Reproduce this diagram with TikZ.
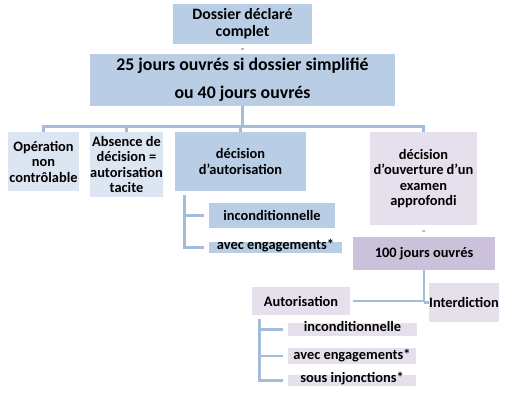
\documentclass[tikz,border=0pt]{standalone}
\usepackage{fontspec}
\setmainfont{Carlito}[Ligatures=ResetAll]
\usetikzlibrary{calc}

\definecolor{bleu}{HTML}{B9CDE5}
\definecolor{bleuclair}{HTML}{DCE6F2}
\definecolor{mauve}{HTML}{E6E0EC}
\definecolor{mauvefonce}{HTML}{CCC1DA}
\definecolor{trait}{HTML}{A4BCDC}

\tikzset{
  boite/.style={rectangle, inner sep=0pt, align=center,
    font=\bfseries\fontsize{14.4}{15.5}\selectfont},
  link/.style={draw=trait, line width=2.8pt}
}

\begin{document}
\begin{tikzpicture}[x=1pt, y=-1pt]
\useasboundingbox (0,0) rectangle (510,400);

% haut
\node[boite, fill=bleu, minimum width=139, minimum height=40,
  font=\bfseries\fontsize{15.8}{17}\selectfont] (dossier) at (242.5,24) {Dossier déclaré\\complet};
\node[boite, fill=bleu, minimum width=305, minimum height=52,
  font=\bfseries\fontsize{17.8}{28}\selectfont] (delai) at (242.5,80) {25 jours ouvrés si dossier simplifié\\ou 40 jours ouvrés};

% premier niveau
\node[boite, fill=bleuclair, minimum width=71, minimum height=59] (opnc) at (43.5,161.5) {Opération\\non\\contrôlable};
\node[boite, fill=bleuclair, minimum width=73, minimum height=65] (tacite) at (126.5,164.5) {Absence de\\décision =\\autorisation\\tacite};
\node[boite, fill=bleu, minimum width=131, minimum height=59] (autor) at (240.5,161.5) {décision\\d'autorisation};
\node[boite, fill=mauve, minimum width=107, minimum height=93] (approf) at (423.5,178.5) {décision\\d'ouverture d'un\\examen\\approfondi};

% sous decision d'autorisation
\node[boite, fill=bleu, minimum width=126, minimum height=25] (inc1) at (272,215.5) {inconditionnelle};
\node[boite, fill=bleu, minimum width=133, text height=6pt, text depth=3pt, inner ysep=1pt] (eng1) at (275.5,247.5) {avec engagements*};

% examen approfondi
\node[boite, fill=mauvefonce, minimum width=142, minimum height=33] (jours) at (424,253.5) {100 jours ouvrés};
\node[boite, fill=mauve, minimum width=98, minimum height=28] (autoris) at (301,301) {Autorisation};
\node[boite, fill=mauve, minimum width=68, minimum height=39] (interd) at (464,302.5) {Interdiction};

\node[boite, fill=mauve, minimum width=129, text height=7pt, text depth=3pt, inner ysep=1.5pt] (inc2) at (352.5,329.5) {inconditionnelle};
\node[boite, fill=mauve, minimum width=128, minimum height=16] (eng2) at (352,356) {avec engagements*};
\node[boite, fill=mauve, minimum width=128, text height=6pt, text depth=3pt, inner ysep=1pt] (inj) at (352,380.5) {sous injonctions*};

% traits
\draw[link, shorten <=4pt, shorten >=4pt] (dossier.south) -- (delai.north);
\draw[link] (delai.south) -- ++(0,20) coordinate (bus);
\foreach \c in {opnc,tacite,autor,approf}
  \draw[link] (\c.north) |- (bus);

\coordinate (b1) at ($(autor.south west)+(10,4)$);
\foreach \c in {inc1,eng1}
  \draw[link, shorten >=5pt] (b1) |- (\c.west);

\draw[link, shorten <=5pt, shorten >=5pt] (approf.south) -- (jours.north);
\draw[link, shorten <=3pt] (autoris.east) -| (jours.south);
\draw[link] (interd.west) -- (jours.south |- interd.west);

\coordinate (b2) at ($(autoris.south west)+(8,4)$);
\foreach \c in {inc2,eng2,inj}
  \draw[link, shorten >=5pt] (b2) |- (\c.west);
\end{tikzpicture}
\end{document}
